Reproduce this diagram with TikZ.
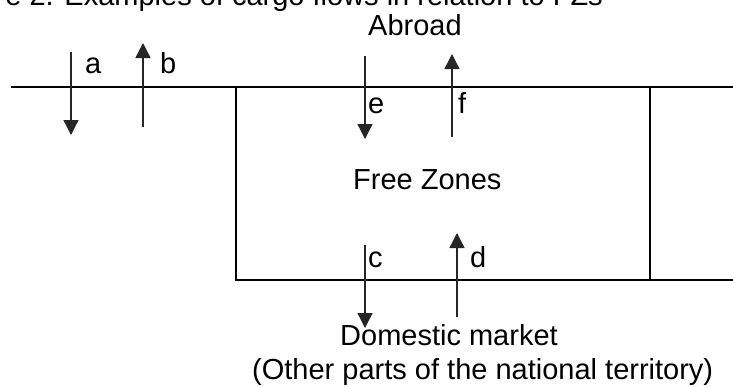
\documentclass[tikz,border=0pt]{standalone}
\usepackage{fontspec}
\setmainfont{Liberation Sans}
\usetikzlibrary{arrows.meta}
\begin{document}
\begin{tikzpicture}[x=1pt,y=-1pt,
  lbl/.style={anchor=base west,inner sep=0pt,font=\fontsize{29}{34}\selectfont},
  boxline/.style={line width=2.2pt,black},
  flow/.style={line width=1.3pt,black!85,-{Triangle[length=15pt,width=15pt]}}]
\useasboundingbox (0,0) rectangle (733,386);
\clip (0,0) rectangle (733,386);
% title (clipped at top)
\node[anchor=base east,inner sep=0pt,font=\fontsize{29}{34}\selectfont] (title) at (603,5) {e 2. Examples of cargo flows in relation to FZs};
% structure
\coordinate (tl) at (11,87);
\coordinate (tr) at (733,87);
\coordinate (bxl) at (236,87);
\coordinate (bxbl) at (236,280);
\coordinate (bbr) at (733,280);
\coordinate (rv) at (650,87);
\coordinate (rvb) at (650,280);
\draw[boxline] (tl) -- (tr);
\draw[boxline] (bxl) -- (bxbl) -- (bbr);
\draw[boxline] (rv) -- (rvb);
% texts
\node[lbl] (abroad) at (368,35) {Abroad};
\node[lbl] (fz) at (353,189) {Free Zones};
\node[lbl] (dom) at (340,345) {Domestic market};
\node[lbl] (oth) at (252,379) {(Other parts of the national territory)};
\node[lbl] (la) at (85,73) {a};
\node[lbl] (lb) at (160,73) {b};
\node[lbl] (le) at (368,113) {e};
\node[lbl] (lf) at (458,113) {f};
\node[lbl] (lc) at (368,267) {c};
\node[lbl] (ld) at (470,267) {d};
% arrows
\coordinate (a1) at (71,52);  \coordinate (a2) at (71,135);
\coordinate (b1) at (143,127); \coordinate (b2) at (143,43);
\coordinate (e1) at (365,56); \coordinate (e2) at (365,139);
\coordinate (f1) at (452,137); \coordinate (f2) at (452,54);
\coordinate (c1) at (365,245); \coordinate (c2) at (365,328);
\coordinate (d1) at (457,317); \coordinate (d2) at (457,233);
\draw[flow] (a1) -- (a2);
\draw[flow] (b1) -- (b2);
\draw[flow] (e1) -- (e2);
\draw[flow] (f1) -- (f2);
\draw[flow] (c1) -- (c2);
\draw[flow] (d1) -- (d2);
\end{tikzpicture}
\end{document}
